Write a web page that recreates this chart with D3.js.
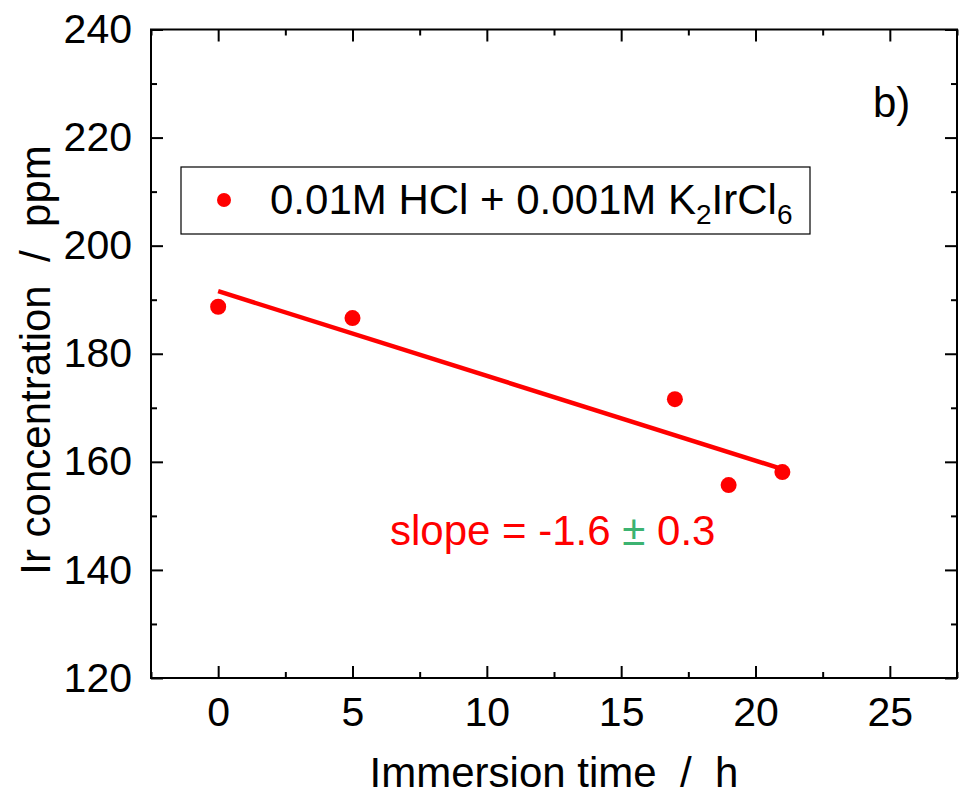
<!DOCTYPE html>
<html><head><meta charset="utf-8">
<script src="https://cdn.jsdelivr.net/npm/d3@7/dist/d3.min.js"></script>
<style>body{margin:0;background:#fff}svg{display:block}text{font-family:"Liberation Sans",Arial,sans-serif}</style>
</head><body>
<script>
const timeH = [0, 5, 17, 19, 21];
const irPpm = [188.7, 186.6, 171.6, 155.7, 158.1];
const xTicks = [0, 5, 10, 15, 20, 25];
const yTicks = [120, 140, 160, 180, 200, 220, 240];
const seriesLabel = "0.01M HCl + 0.001M K";
const slopeText = ["slope = -1.6 ", "\u00b1", " 0.3"];

const W = 960, H = 800;
const m = {l:151, r:957, t:29.5, b:678};
const svg = d3.select("body").append("svg").attr("width", W).attr("height", H);
const x = d3.scaleLinear().domain([-2.5, 27.5]).range([m.l, m.r]);
const y = d3.scaleLinear().domain([120, 240]).range([m.b, m.t]);

// frame
svg.append("rect").attr("x", m.l).attr("y", m.t).attr("width", m.r-m.l).attr("height", m.b-m.t)
  .attr("fill","none").attr("stroke","#000").attr("stroke-width",2);

const minorX = d3.range(-2.5, 27.6, 2.5).filter(v => v % 5 !== 0);
const minorY = d3.range(130, 240, 20);
const TF = 41;

function styleAxis(g){ g.select(".domain").remove(); g.selectAll("line").attr("stroke","#000").attr("stroke-width",2); }
// bottom
svg.append("g").attr("transform",`translate(0,${m.b})`)
  .call(d3.axisBottom(x).tickValues(xTicks).tickSizeInner(-12).tickSizeOuter(0).tickPadding(19).tickFormat(d3.format("d")))
  .call(styleAxis).call(g=>g.selectAll("text").attr("font-size",TF).attr("fill","#000"));
svg.append("g").attr("transform",`translate(0,${m.b})`)
  .call(d3.axisBottom(x).tickValues(minorX).tickSizeInner(-6).tickSizeOuter(0).tickFormat(""))
  .call(styleAxis);
// top
svg.append("g").attr("transform",`translate(0,${m.t})`)
  .call(d3.axisTop(x).tickValues(xTicks).tickSizeInner(-12).tickSizeOuter(0).tickFormat(""))
  .call(styleAxis);
svg.append("g").attr("transform",`translate(0,${m.t})`)
  .call(d3.axisTop(x).tickValues(minorX).tickSizeInner(-6).tickSizeOuter(0).tickFormat(""))
  .call(styleAxis);
// left
svg.append("g").attr("transform",`translate(${m.l},0)`)
  .call(d3.axisLeft(y).tickValues(yTicks).tickSizeInner(-12).tickSizeOuter(0).tickPadding(19).tickFormat(d3.format("d")))
  .call(styleAxis).call(g=>g.selectAll("text").attr("font-size",TF).attr("fill","#000"));
svg.append("g").attr("transform",`translate(${m.l},0)`)
  .call(d3.axisLeft(y).tickValues(minorY).tickSizeInner(-6).tickSizeOuter(0).tickFormat(""))
  .call(styleAxis);
// right
svg.append("g").attr("transform",`translate(${m.r},0)`)
  .call(d3.axisRight(y).tickValues(yTicks).tickSizeInner(-12).tickSizeOuter(0).tickFormat(""))
  .call(styleAxis);
svg.append("g").attr("transform",`translate(${m.r},0)`)
  .call(d3.axisRight(y).tickValues(minorY).tickSizeInner(-6).tickSizeOuter(0).tickFormat(""))
  .call(styleAxis);

// regression line
const mx = d3.mean(timeH), my = d3.mean(irPpm);
const sxy = d3.sum(timeH.map((t,i)=>(t-mx)*(irPpm[i]-my)));
const sxx = d3.sum(timeH.map(t=>(t-mx)**2));
const slope = sxy/sxx, icpt = my - slope*mx;
const xr = d3.extent(timeH);
svg.append("line").attr("x1",x(xr[0])).attr("y1",y(icpt+slope*xr[0]))
  .attr("x2",x(xr[1])).attr("y2",y(icpt+slope*xr[1]))
  .attr("stroke","#ff0000").attr("stroke-width",4.5);

// points
svg.append("g").selectAll("circle").data(timeH).join("circle")
  .attr("cx",d=>x(d)).attr("cy",(d,i)=>y(irPpm[i])).attr("r",8).attr("fill","#ff0000");

// legend
const lg = svg.append("g");
lg.append("rect").attr("x",181).attr("y",167).attr("width",629).attr("height",67)
  .attr("fill","#fff").attr("stroke","#000").attr("stroke-width",1.2);
lg.append("circle").attr("cx",224).attr("cy",200).attr("r",7).attr("fill","#ff0000");
const lt = lg.append("text").attr("x",270).attr("y",214).attr("font-size",42).attr("fill","#000");
lt.append("tspan").text(seriesLabel);
lt.append("tspan").attr("font-size",28).attr("dy",10).text("2");
lt.append("tspan").attr("dy",-10).text("IrCl");
lt.append("tspan").attr("font-size",28).attr("dy",10).text("6");

// slope annotation
const st = svg.append("text").attr("x",390).attr("y",545).attr("font-size",42).attr("fill","#ff0000");
st.append("tspan").text(slopeText[0]);
st.append("tspan").attr("fill","#3cb371").text(slopeText[1]);
st.append("tspan").text(slopeText[2]);

// panel label
svg.append("text").attr("x",873).attr("y",117).attr("font-size",42).attr("fill","#000").text("b)");

// axis titles
svg.append("text").attr("x",554).attr("y",787).attr("text-anchor","middle").attr("font-size",42).attr("fill","#000")
  .attr("xml:space","preserve").text("Immersion time  /  h");
svg.append("text").attr("transform","translate(50,360) rotate(-90)").attr("text-anchor","middle").attr("font-size",42).attr("fill","#000")
  .attr("xml:space","preserve").text("Ir concentration  /  ppm");
</script>
</body></html>
